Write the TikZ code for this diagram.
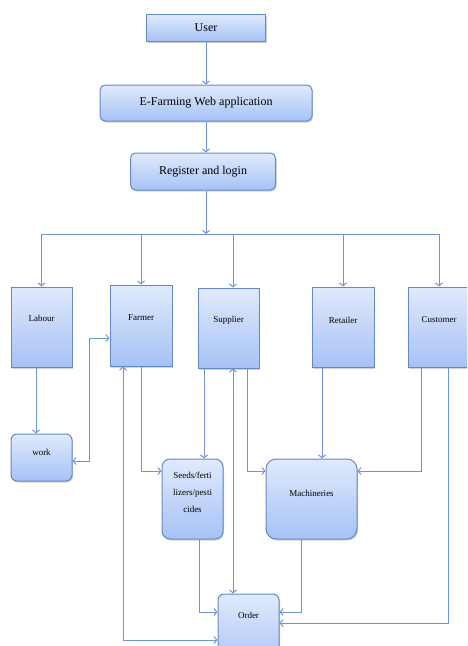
\documentclass[tikz,border=0pt]{standalone}
\usepackage{fontspec}
\setmainfont{Liberation Serif}
\usetikzlibrary{arrows.meta,shadows}

\definecolor{boxtop}{HTML}{E0EAFC}
\definecolor{boxbot}{HTML}{A6C2F5}
\definecolor{boxline}{HTML}{6489C8}
\definecolor{wire}{HTML}{6F95D2}

\tikzset{
    box/.style = {draw=boxline, line width=1pt, top color=boxtop, bottom color=boxbot,
                  inner sep=0pt, drop shadow={shadow xshift=1pt, shadow yshift=-1.5pt, fill=black!35, opacity=.5}},
    headbox/.style = {box, font=\fontsize{12}{14}\selectfont},
    tallbox/.style = {box, minimum width=61pt, minimum height=80pt},
    roundbox/.style = {box, rounded corners=8pt},
    lbl/.style = {font=\fontsize{9}{17}\selectfont, align=center},
    wire/.style = {draw=wire, line width=1pt},
    arr/.style = {wire, -{Straight Barb[length=3pt,width=7pt]}},
    arrs/.style = {wire, {Straight Barb[length=3pt,width=7pt]}-{Straight Barb[length=3pt,width=7pt]}}
}

\begin{document}
\begin{tikzpicture}[x=1pt, y=-1pt]
    \useasboundingbox (0,0) rectangle (467,646);
    \clip (0,0) rectangle (467,646);

    {
        % top chain
        \node[headbox, minimum width=119pt, minimum height=27pt] (user) at (206,27.5) {User};
        \node[headbox, rounded corners=5pt, minimum width=212pt, minimum height=36pt] (efarm) at (206,103) {E-Farming Web application};
        \node[headbox, rounded corners=5pt, minimum width=145pt, minimum height=37pt] (reg) at (203,171.5) {Register and login};

        % user roles
        \node[tallbox, label={[lbl, yshift=9pt]center:Labour}] (labour) at (41.5,327) {};
        \node[tallbox, minimum width=62pt, minimum height=81pt, label={[lbl, yshift=7.5pt]center:Farmer}] (farmer) at (141,325.5) {};
        \node[tallbox, label={[lbl, yshift=8pt]center:Supplier}] (supplier) at (228.5,328) {};
        \node[tallbox, minimum width=62pt, label={[lbl, yshift=7pt]center:Retailer}] (retailer) at (343,327) {};
        \node[tallbox, minimum width=62pt, label={[lbl, yshift=7pt]center:Customer}] (customer) at (439,327) {};

        % lower boxes
        \node[roundbox, rounded corners=6pt, minimum width=61pt, minimum height=47pt, label={[lbl, yshift=5.5pt]center:work}] (work) at (41.5,457.5) {};
        \node[roundbox, minimum width=61pt, minimum height=80pt, label={[lbl, yshift=7pt]center:Seeds/ferti\\lizers/pesti\\cides}] (seeds) at (192.5,499) {};
        \node[roundbox, rounded corners=10pt, minimum width=91pt, minimum height=80pt, label={[lbl, yshift=6pt]center:Machineries}] (mach) at (311.5,499) {};
        \node[roundbox, rounded corners=6pt, minimum width=61pt, minimum height=76pt, label={[lbl, yshift=17pt]center:Order}] (order) at (248.5,632) {};
    }

    \coordinate (bus) at (206,234);

    % top chain arrows
    \draw[arr] (user) -- (efarm);
    \draw[arr] (efarm.south) -- (efarm.south |- reg.north);
    \draw[arr] (efarm.south |- reg.south) -- (bus);

    % bus to the roles
    \draw[wire] (labour |- bus) -- (customer |- bus);
    \draw[arr] (labour |- bus) -- (labour.north);
    \draw[arr] (farmer |- bus) -- (farmer.north);
    \draw[arr] ([xshift=4.5pt]supplier.north |- bus) -- ([xshift=4.5pt]supplier.north);
    \draw[arr] (retailer |- bus) -- (retailer.north);
    \draw[arr] (customer |- bus) -- (customer.north);

    % labour and farmer
    \draw[arr] ([xshift=-5.5pt]labour.south) -- ([xshift=-5.5pt]work.north);
    \draw[arrs] ([yshift=-12.5pt]farmer.west) -- ++(-20,0) |- ([yshift=-3.5pt]work.east);
    \draw[arrs] ([xshift=-18pt]farmer.south) |- ([yshift=-8pt]order.west);
    \draw[arr] (farmer.south) |- ([yshift=28pt]seeds.west);

    % supplier
    \draw[arr] ([xshift=-24.5pt]supplier.south) -- ([xshift=-24.5pt]supplier.south |- seeds.north);
    \draw[arrs] ([xshift=4.5pt]supplier.south) -- ([xshift=4.5pt]supplier.south |- order.north);
    \draw[arr] ([xshift=18.5pt]supplier.south) |- ([yshift=28pt]mach.west);

    % retailer and customer
    \draw[arr] ([xshift=-21pt]retailer.south) -- ([xshift=-21pt]retailer.south |- mach.north);
    \draw[arr] ([xshift=-18pt]customer.south) |- ([yshift=28pt]mach.east);
    \draw[arr] ([xshift=9pt]customer.south) |- ([yshift=9pt]order.east);

    % to the order
    \draw[arr] ([xshift=6.5pt]seeds.south) |- ([yshift=20pt]order.west);
    \draw[arr] ([xshift=-10.5pt]mach.south) |- ([yshift=20pt]order.east);

\end{tikzpicture}
\end{document}
